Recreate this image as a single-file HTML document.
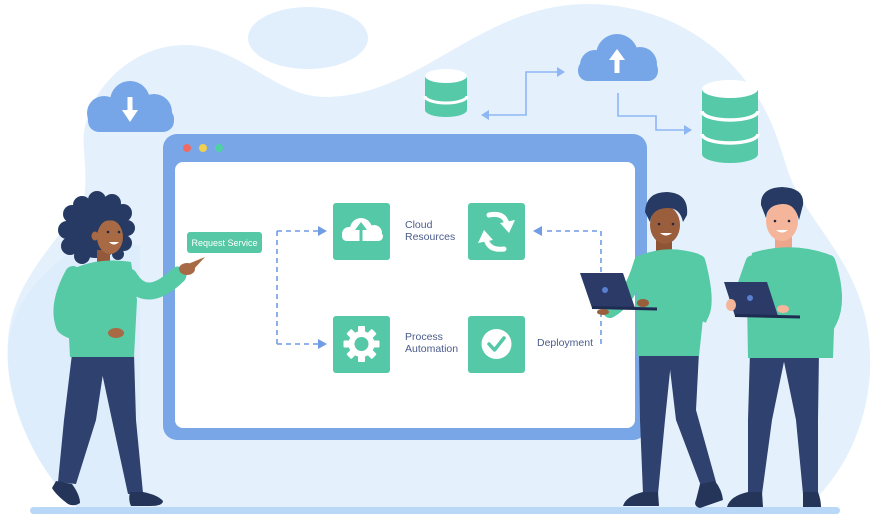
<!DOCTYPE html>
<html><head><meta charset="utf-8"><style>
html,body{margin:0;padding:0;background:#fff;}
svg{display:block;}
text{font-family:"Liberation Sans",sans-serif;}
</style></head><body>
<svg width="878" height="520" viewBox="0 0 878 520" xmlns="http://www.w3.org/2000/svg">
<!-- background blob -->
<path d="M80 510 C35 470 4 400 8 340 C12 280 60 240 84 200 C88 170 82 150 84 133 C90 85 135 45 185 45 C240 45 275 97 325 97 C420 97 480 4 588 4 C660 4 715 40 745 80 C770 110 778 140 786 165 C800 215 850 250 866 320 C882 400 850 470 806 508 Z" fill="#e4f1fc"/>
<path d="M80 510 C35 470 4 400 8 345 C14 300 45 265 85 245 L140 245 L140 510 Z" fill="#deedfb"/>
<ellipse cx="308" cy="38" rx="60" ry="31" fill="#e1effc"/>
<!-- floor -->
<rect x="30" y="507" width="810" height="7" rx="3.5" fill="#b9d7f6"/>

<!-- download cloud -->
<g fill="#77a6e8">
<circle cx="130" cy="101" r="20"/><circle cx="104" cy="113" r="17"/><circle cx="154" cy="112" r="18"/>
<rect x="88" y="108" width="86" height="24" rx="11"/>
</g>
<rect x="127.5" y="97" width="5" height="15" fill="#fff"/>
<polygon points="122,110 138,110 130,122" fill="#fff"/>

<!-- upload cloud -->
<g fill="#77a6e8">
<circle cx="617" cy="55" r="21"/><circle cx="595" cy="65" r="15"/><circle cx="640" cy="64" r="17"/>
<rect x="578" y="60" width="80" height="21" rx="10"/>
</g>
<rect x="614.5" y="57" width="5" height="16" fill="#fff"/>
<polygon points="609,60 625,60 617,49" fill="#fff"/>

<!-- top arrows -->
<g fill="none" stroke="#8db7f3" stroke-width="1.6">
<path d="M489 115 H526 V72 H558"/>
<path d="M618 93 V116 H656 V130 H685"/>
</g>
<g fill="#8db7f3">
<polygon points="489,110 481,115 489,120"/>
<polygon points="557,67 565,72 557,77"/>
<polygon points="684,125 692,130 684,135"/>
</g>

<!-- small db -->
<g>
<rect x="425" y="76" width="42" height="34" fill="#56c9a8"/>
<ellipse cx="446" cy="110" rx="21" ry="7" fill="#56c9a8"/>
<path d="M425 96 A21 7 0 0 0 467 96" fill="none" stroke="#fff" stroke-width="3"/>
<ellipse cx="446" cy="76" rx="21" ry="7" fill="#fff"/>
</g>
<!-- big db -->
<g>
<rect x="702" y="89" width="56" height="65" fill="#56c9a8"/>
<ellipse cx="730" cy="154" rx="28" ry="9" fill="#56c9a8"/>
<path d="M702 111 A28 9 0 0 0 758 111" fill="none" stroke="#fff" stroke-width="3.5"/>
<path d="M702 134 A28 9 0 0 0 758 134" fill="none" stroke="#fff" stroke-width="3.5"/>
<ellipse cx="730" cy="89" rx="28" ry="9" fill="#fff"/>
</g>

<!-- browser -->
<rect x="163" y="134" width="484" height="306" rx="14" fill="#79a6e7"/>
<rect x="175" y="162" width="460" height="266" rx="8" fill="#fff"/>
<circle cx="187" cy="148" r="4" fill="#ee6b63"/>
<circle cx="203" cy="148" r="4" fill="#f2d04e"/>
<circle cx="219" cy="148" r="4" fill="#4fd1a5"/>

<!-- request service -->
<rect x="187" y="232" width="75" height="21" rx="3" fill="#56c8a5"/>
<text x="224.5" y="246" font-size="9" fill="#fff" text-anchor="middle">Request Service</text>

<!-- dashed connectors -->
<g fill="none" stroke="#6f9ce3" stroke-width="1.6" stroke-dasharray="5 4">
<path d="M277 231 V344"/>
<path d="M277 231 H318"/>
<path d="M277 344 H318"/>
<path d="M601 344 V231 H543"/>
</g>
<g fill="#6f9ce3">
<polygon points="318,226 327,231 318,236"/>
<polygon points="318,339 327,344 318,349"/>
<polygon points="542,226 533,231 542,236"/>
</g>

<!-- squares -->
<g fill="#55c8a7">
<rect x="333" y="203" width="57" height="57" rx="3"/>
<rect x="468" y="203" width="57" height="57" rx="3"/>
<rect x="333" y="316" width="57" height="57" rx="3"/>
<rect x="468" y="316" width="57" height="57" rx="3"/>
</g>
<!-- cloud icon -->
<g fill="#fff">
<circle cx="361" cy="229" r="11"/><circle cx="349" cy="234" r="7"/><circle cx="374" cy="233" r="8"/>
<rect x="342" y="232" width="41" height="9" rx="4.5"/>
</g>
<rect x="359.5" y="227" width="3" height="16" fill="#55c8a7"/>
<polygon points="355,230 367,230 361,222" fill="#55c8a7"/>
<!-- sync icon -->
<g fill="none" stroke="#fff" stroke-width="5" stroke-linecap="round">
<path d="M489 215 Q504 212 507 224"/>
<path d="M504 249 Q489 251 486 239"/>
</g>
<g fill="#fff">
<polygon points="500,223 515,220 509,233"/>
<polygon points="493,240 478,243 484,230"/>
</g>
<!-- gear icon -->
<g fill="#fff" transform="translate(361.5 344)">
<circle r="13"/>
<rect x="-3.5" y="-18" width="7" height="36" rx="1"/>
<rect x="-3.5" y="-18" width="7" height="36" rx="1" transform="rotate(45)"/>
<rect x="-3.5" y="-18" width="7" height="36" rx="1" transform="rotate(90)"/>
<rect x="-3.5" y="-18" width="7" height="36" rx="1" transform="rotate(135)"/>
<circle r="7" fill="#55c8a7"/>
</g>
<!-- check icon -->
<circle cx="496.5" cy="344" r="15" fill="#fff"/>
<path d="M489 344 L494.5 350 L504 338" fill="none" stroke="#55c8a7" stroke-width="3.5" stroke-linecap="round" stroke-linejoin="round"/>

<!-- labels -->
<g font-size="10.5" fill="#4b5b8c">
<text x="405" y="228">Cloud</text>
<text x="405" y="240">Resources</text>
<text x="405" y="340">Process</text>
<text x="405" y="352">Automation</text>
<text x="537" y="346">Deployment</text>
</g>

<!-- ===== Woman ===== -->
<g>
<!-- hair -->
<g fill="#263a63">
<ellipse cx="96" cy="229" rx="31" ry="29"/>
<circle cx="72" cy="214" r="9"/><circle cx="67" cy="230" r="9"/><circle cx="70" cy="246" r="9"/>
<circle cx="82" cy="205" r="9"/><circle cx="97" cy="200" r="9"/><circle cx="112" cy="203" r="9"/>
<circle cx="123" cy="213" r="9"/><circle cx="127" cy="228" r="8"/><circle cx="124" cy="243" r="8"/>
<circle cx="82" cy="256" r="8"/><circle cx="118" cy="254" r="6"/>
</g>
<!-- neck -->
<rect x="97" y="250" width="13" height="16" fill="#94593a"/>
<!-- face -->
<ellipse cx="110" cy="237" rx="13" ry="17" fill="#a86a44"/>
<path d="M90 210 Q105 202 122 214 L122 222 Q106 218 96 224 Z" fill="#263a63"/>
<ellipse cx="95" cy="236" rx="3.5" ry="4.5" fill="#a86a44"/>
<circle cx="108" cy="232" r="1.3" fill="#1d2746"/>
<circle cx="119" cy="232" r="1.3" fill="#1d2746"/>
<path d="M109 242 Q114 247 119 242 Z" fill="#fff"/>
<!-- pants -->
<g fill="#2e416f">
<polygon points="72,354 106,354 96,420 76,484 58,482 64,420"/>
<polygon points="98,354 134,354 136,420 143,493 128,494 112,420"/>
</g>
<!-- shoes -->
<path d="M56 481 L72 484 Q80 495 80 503 Q74 507 68 504 Q56 495 52 488 Z" fill="#243559"/>
<path d="M130 492 L143 492 Q158 495 163 501 Q163 506 150 506 L131 506 Q128 500 130 492 Z" fill="#243559"/>
<!-- sweater torso -->
<path d="M75 268 Q100 257 131 262 L137 300 L134 357 L70 357 L67 300 Z" fill="#56c9a5"/>
<!-- left arm hanging -->
<path d="M73 274 Q56 305 64 326 Q72 335 106 333" fill="none" stroke="#56c9a5" stroke-width="16" stroke-linecap="round"/>
<ellipse cx="116" cy="333" rx="8" ry="5" fill="#a86a44"/>
<!-- raised arm -->
<path d="M129 277 Q146 306 178 275" fill="none" stroke="#56c9a5" stroke-width="17" stroke-linecap="round"/>
<ellipse cx="187" cy="269" rx="8" ry="6" fill="#a86a44"/>
<path d="M188 264 L205 257 L193 270 Z" fill="#a86a44"/>
</g>

<!-- ===== Man 1 ===== -->
<g>
<!-- pants -->
<g fill="#2e416f">
<polygon points="639,352 672,352 665,420 658,494 643,494 640,420"/>
<polygon points="668,352 699,352 696,410 716,482 701,486 676,420"/>
</g>
<path d="M643 492 L658 492 L659 506 L623 506 Q626 496 643 492 Z" fill="#243559"/>
<path d="M700 484 L715 481 Q722 490 723 500 L700 508 Q693 506 696 500 Z" fill="#243559"/>
<!-- neck -->
<rect x="656" y="240" width="16" height="14" fill="#8e5433"/>
<!-- torso -->
<path d="M641 255 Q668 244 699 254 L705 300 L699 356 L637 356 L636 300 Z" fill="#56c9a5"/>
<!-- right arm (across) -->
<path d="M698 262 Q708 300 702 313 Q690 308 650 305" fill="none" stroke="#56c9a5" stroke-width="15" stroke-linecap="round"/>
<!-- left arm to laptop -->
<path d="M641 262 Q630 300 610 311" fill="none" stroke="#56c9a5" stroke-width="14" stroke-linecap="round"/>
<!-- laptop -->
<polygon points="580,273 623,273 635,308 592,308" fill="#2b3a66"/>
<line x1="592" y1="307.5" x2="657" y2="309" stroke="#1f2c52" stroke-width="3"/>
<circle cx="605" cy="290" r="3" fill="#5b7fd0"/>
<ellipse cx="603" cy="312" rx="6" ry="3" fill="#9b5e3c"/>
<ellipse cx="643" cy="303" rx="6" ry="4" fill="#9b5e3c"/>
<!-- face -->
<ellipse cx="665" cy="225" rx="15" ry="19" fill="#9b5e3c"/>
<path d="M645 212 Q646 192 667 192 Q689 193 687 215 L683 222 Q680 208 668 208 Q652 208 650 222 Z" fill="#263a63"/>
<circle cx="659" cy="224" r="1.3" fill="#1d2746"/>
<circle cx="673" cy="224" r="1.3" fill="#1d2746"/>
<path d="M660 233 Q666 238 672 233 Z" fill="#fff"/>
</g>

<!-- ===== Man 2 ===== -->
<g>
<g fill="#2e416f">
<polygon points="750,352 786,352 772,420 762,494 748,494 748,420"/>
<polygon points="782,352 819,352 818,420 818,494 803,494 796,420"/>
</g>
<path d="M748 492 L762 492 L763 507 L727 507 Q730 496 748 492 Z" fill="#243559"/>
<path d="M803 492 L818 492 Q821 500 821 507 L803 507 Z" fill="#243559"/>
<rect x="775" y="237" width="17" height="15" fill="#eda58b"/>
<path d="M752 253 Q790 241 828 254 L835 300 L833 358 L748 358 L747 300 Z" fill="#56c9a5"/>
<path d="M828 262 Q840 300 830 320 Q810 315 785 308" fill="none" stroke="#56c9a5" stroke-width="15" stroke-linecap="round"/>
<path d="M752 262 Q742 290 738 303" fill="none" stroke="#56c9a5" stroke-width="13" stroke-linecap="round"/>
<polygon points="724,282 767,282 778,316 735,316" fill="#2b3a66"/>
<line x1="735" y1="315.5" x2="800" y2="317" stroke="#1f2c52" stroke-width="3"/>
<circle cx="750" cy="298" r="3" fill="#5b7fd0"/>
<ellipse cx="731" cy="305" rx="5" ry="6" fill="#f5b59b"/>
<ellipse cx="783" cy="309" rx="6" ry="4" fill="#f5b59b"/>
<ellipse cx="782" cy="221" rx="16" ry="20" fill="#f5b59b"/>
<path d="M761 205 Q760 188 782 187 Q805 188 803 205 L799 220 Q795 203 782 204 Q767 205 766 218 Z" fill="#263a63"/>
<circle cx="775" cy="221" r="1.3" fill="#1d2746"/>
<circle cx="789" cy="221" r="1.3" fill="#1d2746"/>
<path d="M776 230 Q782 235 788 230 Z" fill="#fff"/>
</g>
</svg>
</body></html>
